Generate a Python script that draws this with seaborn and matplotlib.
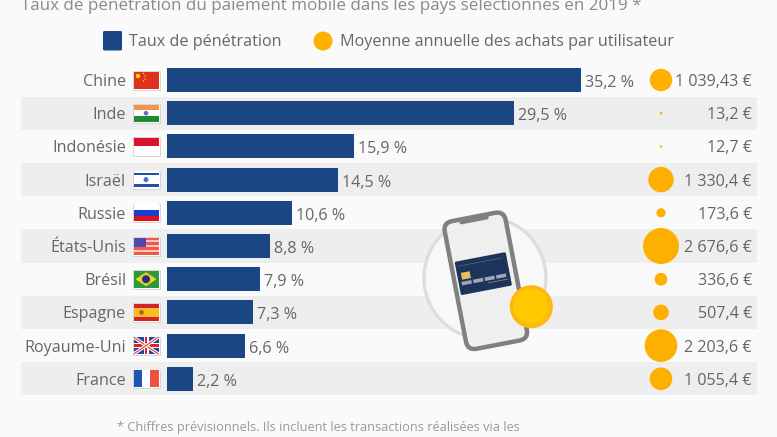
import matplotlib
matplotlib.use("Agg")
import matplotlib.pyplot as plt
import matplotlib.patches as mp
from matplotlib.transforms import Affine2D
import numpy as np
import pandas as pd
import seaborn as sns

countries = ["Chine", "Inde", "Indonésie", "Israël", "Russie", "États-Unis", "Brésil", "Espagne", "Royaume-Uni", "France"]
rates = [35.2, 29.5, 15.9, 14.5, 10.6, 8.8, 7.9, 7.3, 6.6, 2.2]
rate_labels = ["35,2 %", "29,5 %", "15,9 %", "14,5 %", "10,6 %", "8,8 %", "7,9 %", "7,3 %", "6,6 %", "2,2 %"]
spend = [1039.43, 13.2, 12.7, 1330.4, 173.6, 2676.6, 336.6, 507.4, 2203.6, 1055.4]
spend_labels = ["1 039,43 €", "13,2 €", "12,7 €", "1 330,4 €", "173,6 €", "2 676,6 €", "336,6 €", "507,4 €", "2 203,6 €", "1 055,4 €"]
title = "Taux de pénétration du paiement mobile dans les pays sélectionnés en 2019 *"
legend_labels = ["Taux de pénétration", "Moyenne annuelle des achats par utilisateur"]
note = "* Chiffres prévisionnels. Ils incluent les transactions réalisées via les"

BLUE = "#1a4684"; GOLD = "#fdb000"; TXT = "#666666"; BG = "#fafafa"; STRIPE = "#eeeeee"
W, H = 777, 437
FS = 11.65
sns.set_theme(style="white")
plt.rcParams["font.family"] = ["Open Sans", "DejaVu Sans"]

fig = plt.figure(figsize=(W / 100, H / 100), dpi=100, facecolor=BG)

# main data axes: spans figure, data scale maps value 0 to px 167 and rows 33.2 px apart
PX_X = 11.76; X0 = 167; PX_Y = 33.2; Y0 = 80
ax = fig.add_axes([0, 0, 1, 1], facecolor="none", zorder=3)
df = pd.DataFrame({"pays": countries, "taux": rates, "depense": spend, "row": range(len(countries))})
sns.barplot(data=df, x="taux", y="pays", color=BLUE, saturation=1, width=24 / PX_Y, ax=ax, orient="h",
            edgecolor="none", linewidth=0)
ax.set_xlim(-X0 / PX_X, (W - X0) / PX_X)
ax.set_ylim((H - Y0) / PX_Y, -Y0 / PX_Y)
ax.axis("off")

# bubbles (area proportional to spend)
dmax_px = 36.0
sizes = (np.sqrt(np.array(spend) / max(spend)) * dmax_px * 0.72) ** 2
ax.scatter([(661 - X0) / PX_X] * len(spend), df["row"], s=sizes, color=GOLD, linewidths=0, zorder=4)

for i, (r, lab) in enumerate(zip(rates, rate_labels)):
    ax.text(r + 4 / PX_X, i + 0.09, lab, va="center", ha="left", fontsize=FS, color=TXT)
for i, lab in enumerate(spend_labels):
    ax.text((752 - X0) / PX_X, i + 0.06, lab, va="center", ha="right", fontsize=FS, color=TXT)
for i, lab in enumerate(countries):
    ax.text((126 - X0) / PX_X, i + 0.06, lab, va="center", ha="right", fontsize=FS, color=TXT)

# background decoration in pixel space
bg = fig.add_axes([0, 0, 1, 1], facecolor="none", zorder=1)
bg.set_xlim(0, W); bg.set_ylim(H, 0); bg.axis("off")
for i in range(1, len(countries), 2):
    yc = Y0 + i * PX_Y
    bg.add_patch(mp.Rectangle((21, yc - PX_Y / 2), 736, PX_Y, fc=STRIPE, ec="none"))
bg.add_patch(mp.Circle((485, 278), 61, fc="#f8f8f8", ec="#dddddd", lw=2.4))

def rot(cx, cy, a, axis):
    return Affine2D().rotate_deg_around(cx, cy, a) + axis.transData

# phone illustration
A = -10.9
cx, cy = 485.8, 280.8
t = rot(cx, cy, A, bg)
bg.add_patch(mp.FancyBboxPatch((cx - 31, cy - 65), 62, 130, boxstyle="round,pad=0,rounding_size=9",
             fc="#efefef", ec="#808080", lw=3.2, transform=t))
bg.add_patch(mp.FancyBboxPatch((cx - 15, cy - 65), 30, 5, boxstyle="round,pad=0,rounding_size=2.5",
             fc="#808080", ec="none", transform=t))
kx, ky = 484.7, 273.3
bg.add_patch(mp.FancyBboxPatch((kx - 26, ky - 17), 52, 34, boxstyle="round,pad=0,rounding_size=1.5",
             fc="#1d3359", ec="none", transform=t))
bg.plot([kx - 23, kx + 22], [ky - 12, ky - 12], color="#5a6b88", lw=0.5, transform=t)
bg.add_patch(mp.Rectangle((kx - 22, ky - 5), 9, 7, fc="#e8bd5c", ec="none", transform=t))
for k in range(4):
    bg.add_patch(mp.Rectangle((kx - 23 + k * 11.7, ky + 4), 10, 3.6, fc="#a0a8b4", ec="none", transform=t))
bg.plot([kx + 3, kx + 23], [ky + 10, ky + 10], color="#7a869c", lw=0.6, transform=t)
bg.add_patch(mp.Circle((531.3, 306.7), 21.5, fc="#f9b90f", ec="none"))
bg.add_patch(mp.Circle((530.5, 306), 17.5, fc="#ffc800", ec="none"))

# flags
fl = fig.add_axes([0, 0, 1, 1], facecolor="none", zorder=2)
fl.set_xlim(0, W); fl.set_ylim(H, 0); fl.axis("off")
FX, FW, FH = 133.5, 25, 17

def bands(yc, cols, vertical=False):
    n = len(cols)
    for j, c in enumerate(cols):
        if vertical:
            fl.add_patch(mp.Rectangle((FX + j * FW / n, yc - FH / 2), FW / n, FH, fc=c, ec="none"))
        else:
            fl.add_patch(mp.Rectangle((FX, yc - FH / 2 + j * FH / n), FW, FH / n, fc=c, ec="none"))

ys = [Y0 + i * PX_Y for i in range(10)]
for y in ys:
    fl.add_patch(mp.Rectangle((FX - 0.5, y - FH / 2 - 0.5), FW + 1.5, FH + 1.5, fc="#ffffff", ec="#d6d6d6", lw=0.7))
# Chine
bands(ys[0], ["#e0301e"])
fl.add_patch(mp.Circle((FX + 4.5, ys[0] - 4), 2.2, fc="#ffde00", ec="none"))
for dx, dy in [(10, -6.5), (11.5, -4), (11.5, -1), (10, 1)]:
    fl.add_patch(mp.Circle((FX + dx, ys[0] + dy), 0.7, fc="#ffde00", ec="none"))
# Inde
bands(ys[1], ["#f4934a", "#ffffff", "#1e8a32"])
fl.add_patch(mp.Circle((FX + FW / 2, ys[1]), 2.3, fc="#6a6ab0", ec="none"))
# Indonésie
bands(ys[2], ["#d8142c", "#ffffff"])
# Israël
bands(ys[3], ["#ffffff"])
fl.add_patch(mp.Rectangle((FX, ys[3] - 7), FW, 2.5, fc="#2350a8", ec="none"))
fl.add_patch(mp.Rectangle((FX, ys[3] + 4.5), FW, 2.5, fc="#2350a8", ec="none"))
fl.add_patch(mp.Circle((FX + FW / 2, ys[3]), 2.5, fc="#4a72c0", ec="none"))
# Russie
bands(ys[4], ["#ffffff", "#1a3fd0", "#e0101e"])
# États-Unis
bands(ys[5], ["#f0584a", "#f8c8c0"] * 3 + ["#f0584a"])
fl.add_patch(mp.Rectangle((FX, ys[5] - FH / 2), 12, 9, fc="#4a4ab0", ec="none"))
# Brésil
bands(ys[6], ["#2a9a3a"])
fl.add_patch(mp.Polygon([(FX + 2, ys[6]), (FX + FW / 2, ys[6] - 7), (FX + FW - 2, ys[6]), (FX + FW / 2, ys[6] + 7)], fc="#f2d020", ec="none"))
fl.add_patch(mp.Circle((FX + FW / 2, ys[6]), 4, fc="#26307e", ec="none"))
# Espagne
fl.add_patch(mp.Rectangle((FX, ys[7] - FH / 2), FW, FH, fc="#d8222a", ec="none"))
fl.add_patch(mp.Rectangle((FX, ys[7] - FH / 4), FW, FH / 2, fc="#f8c020", ec="none"))
fl.add_patch(mp.Circle((FX + 8, ys[7]), 2.4, fc="#b8602a", ec="none"))
# Royaume-Uni
y8 = ys[8]
bands(y8, ["#2c4296"])
L, R, T, B = FX, FX + FW, y8 - FH / 2, y8 + FH / 2
for (a, b) in [((L, T), (R, B)), ((L, B), (R, T))]:
    fl.plot([a[0], b[0]], [a[1], b[1]], color="white", lw=2.4, solid_capstyle="butt")
    fl.plot([a[0], b[0]], [a[1], b[1]], color="#d8222a", lw=0.7, solid_capstyle="butt")
fl.add_patch(mp.Rectangle((FX + FW / 2 - 2.5, T), 5, FH, fc="white", ec="none"))
fl.add_patch(mp.Rectangle((FX, y8 - 2.5), FW, 5, fc="white", ec="none"))
fl.add_patch(mp.Rectangle((FX + FW / 2 - 1.3, T), 2.6, FH, fc="#d8222a", ec="none"))
fl.add_patch(mp.Rectangle((FX, y8 - 1.3), FW, 2.6, fc="#d8222a", ec="none"))
# France
bands(ys[9], ["#1f55b5", "#ffffff", "#f0503c"], vertical=True)

# header, legend, footnote
fig.text(331.5 / W, 1 - 10 / H, title, ha="center", va="baseline", fontsize=12.27, color="#8a8a8a")
bg.add_patch(mp.FancyBboxPatch((103, 31), 19, 19.5, boxstyle="round,pad=0,rounding_size=1.5", fc=BLUE, ec="none"))
bg.add_patch(mp.Circle((323, 41), 9.5, fc=GOLD, ec="none"))
bg.text(129, 41.5, legend_labels[0], ha="left", va="center", fontsize=FS, color=TXT)
bg.text(340, 41.5, legend_labels[1], ha="left", va="center", fontsize=FS, color=TXT)
fig.text(318.5 / W, 1 - 427 / H, note, ha="center", va="center", fontsize=9.2, color="#999999")

fig.savefig("out.png", dpi=100, facecolor=BG)
